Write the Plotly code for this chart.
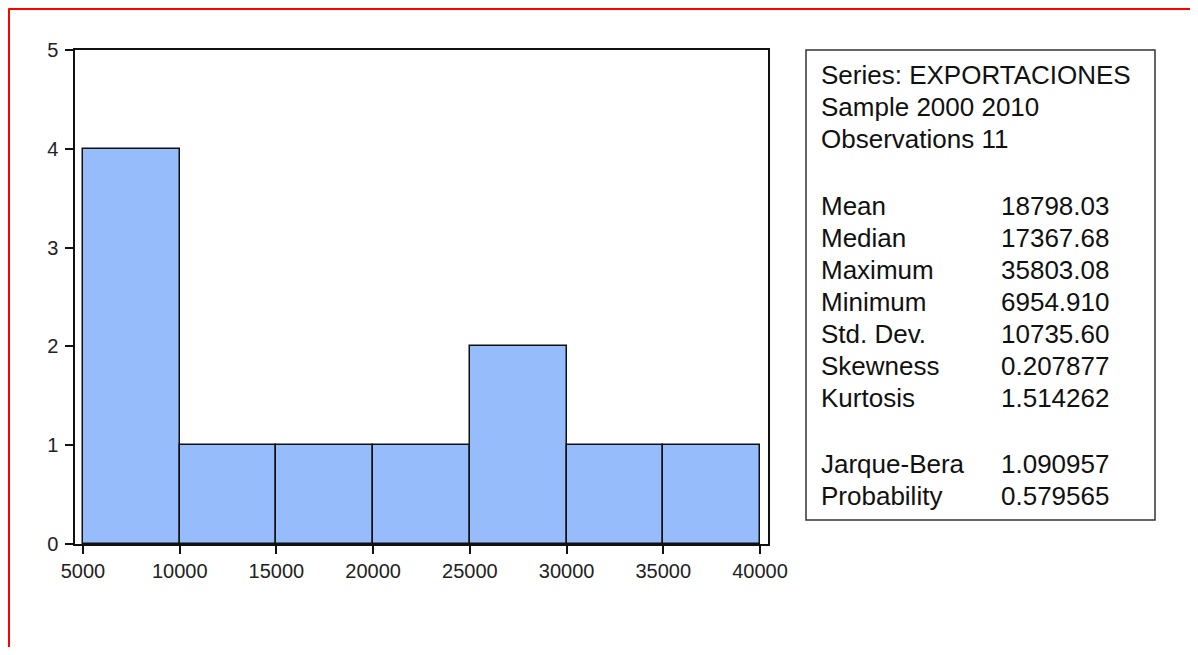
import plotly.graph_objects as go

# ---- data ----
bin_starts = [5000, 10000, 15000, 20000, 25000, 30000, 35000]
bin_width = 5000
counts = [4, 1, 1, 1, 2, 1, 1]
x_ticks = [5000, 10000, 15000, 20000, 25000, 30000, 35000, 40000]
y_ticks = [0, 1, 2, 3, 4, 5]

header_lines = ["Series: EXPORTACIONES", "Sample 2000 2010", "Observations 11"]
stat_labels = ["Mean", "Median", "Maximum", "Minimum", "Std. Dev.", "Skewness", "Kurtosis"]
stat_values = ["18798.03", "17367.68", "35803.08", "6954.910", "10735.60", "0.207877", "1.514262"]
test_labels = ["Jarque-Bera", "Probability"]
test_values = ["1.090957", "0.579565"]

# ---- layout geometry (page pixels; the page body adds an 8px offset) ----
OFF = 8
W, H = 1198 - 2 * OFF, 655 - 2 * OFF
L, R, T, B = 75 - OFF, 768 - OFF, 50 - OFF, 544 - OFF
pw, ph = R - L, B - T

def px(x):
    return (x - OFF - L) / pw

def py(y):
    return (B - (y - OFF)) / ph

FONT = "Liberation Sans, Arial, sans-serif"

fig = go.Figure()
fig.add_trace(go.Bar(
    x=[s + bin_width / 2 for s in bin_starts],
    y=counts,
    width=[bin_width] * len(counts),
    marker=dict(color="#96BCFC", line=dict(color="#111111", width=1.5)),
    hoverinfo="skip",
))

shapes = []
# red page border (top and left)
shapes.append(dict(type="line", xref="paper", yref="paper",
                   x0=px(8.5), x1=px(1200), y0=py(8.5), y1=py(8.5),
                   line=dict(color="#FF0000", width=3)))
shapes.append(dict(type="line", xref="paper", yref="paper",
                   x0=px(8.5), x1=px(8.5), y0=py(8.5), y1=py(660),
                   line=dict(color="#FF0000", width=3)))
# stats box
shapes.append(dict(type="rect", xref="paper", yref="paper",
                   x0=px(806), x1=px(1155), y0=py(50), y1=py(520),
                   line=dict(color="#333333", width=1.5)))

annotations = []
def txt(x, y, s):
    annotations.append(dict(xref="paper", yref="paper", x=px(x), y=py(y),
                            text=s, showarrow=False, xanchor="left", yanchor="middle",
                            font=dict(family=FONT, size=26, color="#111111")))

for i, s in enumerate(header_lines):
    txt(819, 75 + 32 * i, s)
for i, (a, b) in enumerate(zip(stat_labels, stat_values)):
    txt(819, 206 + 32 * i, a)
    txt(999, 206 + 32 * i, b)
for i, (a, b) in enumerate(zip(test_labels, test_values)):
    txt(819, 464 + 32 * i, a)
    txt(999, 464 + 32 * i, b)

xr0 = 5000 - 8 * 35000 / 677
xr1 = 40000 + 8 * 35000 / 677

fig.update_layout(
    width=W, height=H,
    margin=dict(l=L, r=W - R, t=T, b=H - B),
    paper_bgcolor="white", plot_bgcolor="white",
    showlegend=False,
    bargap=0,
    shapes=shapes,
    annotations=annotations,
    xaxis=dict(range=[xr0, xr1], tickvals=x_ticks, ticktext=[str(v) for v in x_ticks],
               ticks="outside", ticklen=8, tickwidth=1.5, tickcolor="#111111",
               showline=True, linecolor="#111111", linewidth=1.5, mirror=True,
               showgrid=False, zeroline=False,
               tickfont=dict(family=FONT, size=20, color="#222222")),
    yaxis=dict(range=[0, 5], tickvals=y_ticks,
               ticks="outside", ticklen=8, tickwidth=1.5, tickcolor="#111111",
               showline=True, linecolor="#111111", linewidth=1.5, mirror=True,
               showgrid=False, zeroline=False, ticklabelstandoff=3,
               tickfont=dict(family=FONT, size=20, color="#222222")),
)

fig.write_html("out.html")
